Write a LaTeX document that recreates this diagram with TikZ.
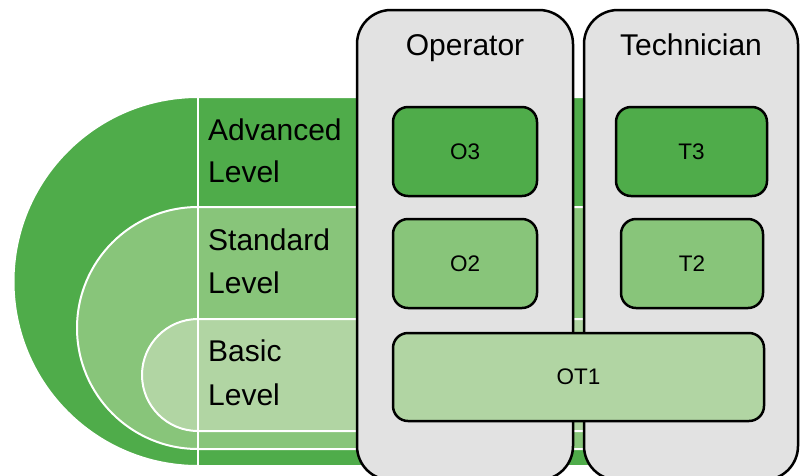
\documentclass[tikz,border=0pt]{standalone}
\usepackage{fontspec}
\setmainfont{Liberation Sans}
\definecolor{lvlAdv}{HTML}{4FAC4A}
\definecolor{lvlStd}{HTML}{88C57A}
\definecolor{lvlBas}{HTML}{B1D5A3}
\definecolor{panel}{HTML}{E2E2E2}
\tikzset{
  band/.style={draw=white, line width=2pt},
  lvltext/.style={anchor=base west, inner sep=0pt, font=\fontsize{30}{35}\selectfont},
  column/.style={draw=black, line width=2.5pt, fill=panel, rounded corners=34pt},
  coltitle/.style={anchor=base, inner sep=0pt, font=\fontsize{30}{35}\selectfont},
  skillbox/.style={draw=black, line width=2.5pt, rounded corners=15pt, font=\fontsize{22.5}{26}\selectfont}
}
\begin{document}
\begin{tikzpicture}[x=1pt,y=1pt]
\useasboundingbox (0,0) rectangle (802,-475);
\clip (0,0) rectangle (802,-475);

% nested level bands
\path[band, fill=lvlAdv] (590,-97) -- (198,-97)
  arc[start angle=90, end angle=270, radius=184.5] -- (590,-466) -- cycle;
\path[band, fill=lvlStd] (590,-207) -- (198,-207)
  arc[start angle=90, end angle=270, radius=121] -- (590,-449) -- cycle;
\path[band, fill=lvlBas] (590,-319) -- (198,-319)
  arc[start angle=90, end angle=270, radius=56] -- (590,-431) -- cycle;
\coordinate (divtop) at (198,-97);
\coordinate (divbot) at (198,-466);
\draw[white, line width=2pt] (divtop) -- (divbot);

% level labels
\node[lvltext] (adv1) at (208,-140) {Advanced};
\node[lvltext] (adv2) at (208,-182) {Level};
\node[lvltext] (std1) at (208,-250) {Standard};
\node[lvltext] (std2) at (208,-293) {Level};
\node[lvltext] (bas1) at (208,-361) {Basic};
\node[lvltext] (bas2) at (208,-405) {Level};

% role columns
\path[column] (357,-10) rectangle (573,-480);
\path[column] (584,-10) rectangle (798,-480);
\node[coltitle] (op) at (465,-55) {Operator};
\node[coltitle] (tech) at (691,-55) {Technician};

% skill boxes
\path[skillbox, fill=lvlAdv] (393,-107) rectangle node (o3) {O3} (537,-196);
\path[skillbox, fill=lvlAdv] (616,-107) rectangle node (t3) {T3} (767,-196);
\path[skillbox, fill=lvlStd] (393,-219) rectangle node (o2) {O2} (537,-308);
\path[skillbox, fill=lvlStd] (621,-219) rectangle node (t2) {T2} (763,-308);
\path[skillbox, fill=lvlBas] (393,-333) rectangle node (ot1) {OT1} (764,-421);
\end{tikzpicture}
\end{document}
